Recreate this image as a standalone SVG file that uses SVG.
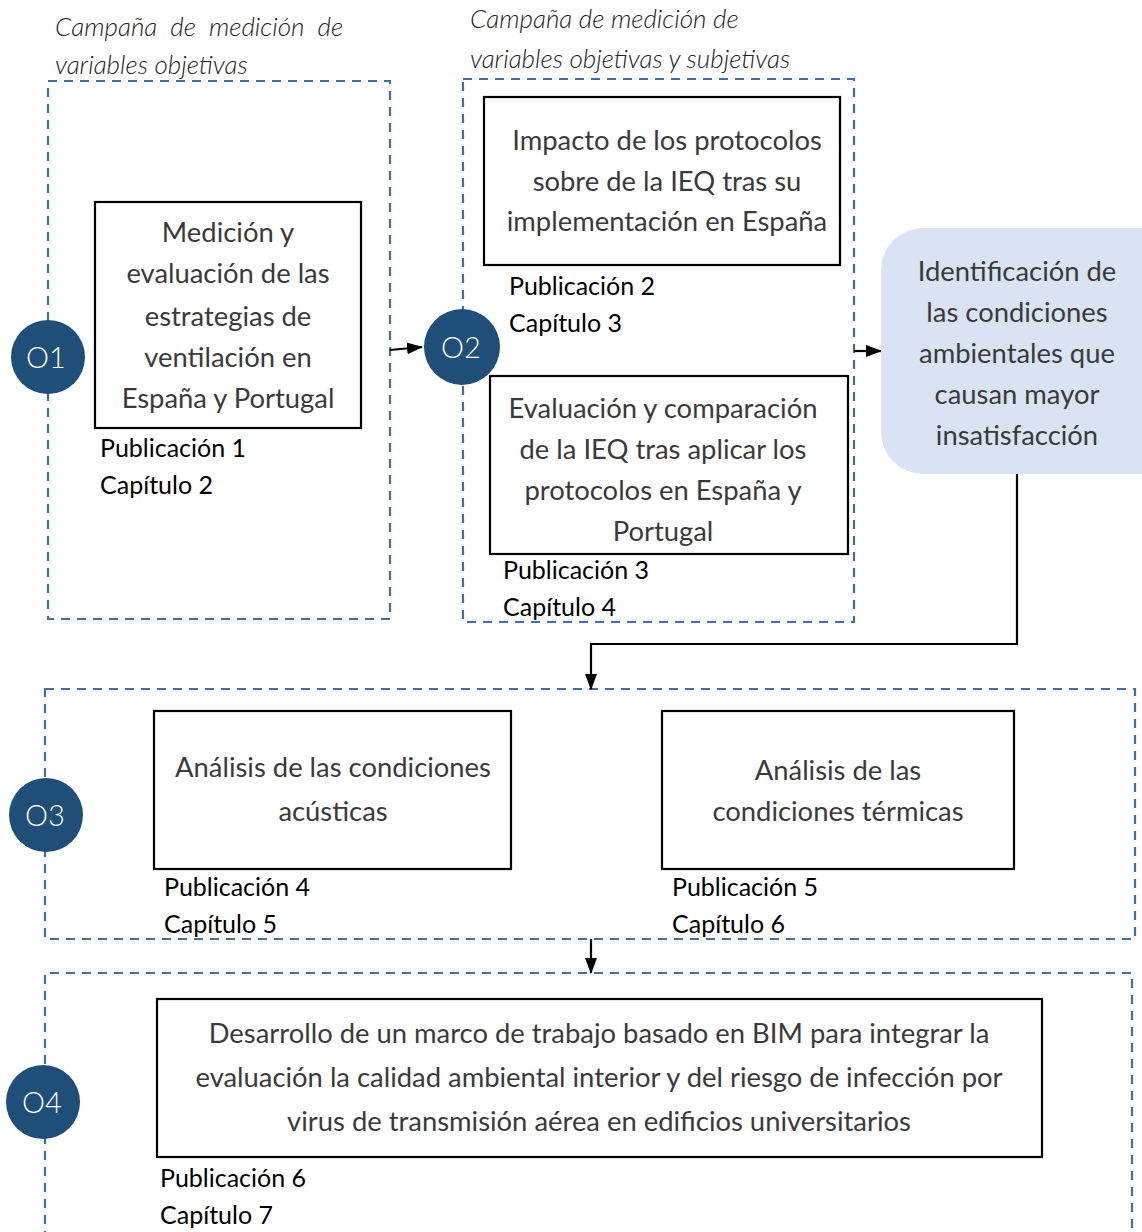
<svg xmlns="http://www.w3.org/2000/svg" width="1142" height="1232" viewBox="0 0 1142 1232">
<defs>
<style>
.dash{fill:none;stroke:#3f6f9f;stroke-width:2.2;stroke-dasharray:9 7}
.box{fill:#fff;stroke:#000;stroke-width:2.2}
.t{font-family:Lato,"Open Sans",sans-serif;font-size:27.4px;font-weight:400;fill:#3a3a3a;text-anchor:middle}
.pub{font-family:Lato,"Open Sans",sans-serif;font-size:25px;fill:#000;font-weight:400}
.cap{font-family:Lato,"Open Sans",sans-serif;font-size:26px;font-weight:300;fill:#222;font-style:italic}
.circ{fill:#1f4e79}
.ct{font-family:Lato,"Open Sans",sans-serif;font-size:29px;font-weight:300;fill:#fff;text-anchor:middle}
.conn{fill:none;stroke:#000;stroke-width:2.2}
</style>
<marker id="ahd" markerWidth="16" markerHeight="16" refX="15" refY="8" orient="auto" markerUnits="userSpaceOnUse" viewBox="0 0 16 16">
<path d="M0,2 L16,8 L0,14 z" fill="#000"/>
</marker>
</defs>
<rect width="1142" height="1232" fill="#fff"/>

<g id="captions">
<text class="cap" x="55" y="36" word-spacing="6.5">Campaña de medición de</text>
<text class="cap" x="55" y="74">variables objetivas</text>
<text class="cap" x="470" y="28">Campaña de medición de</text>
<text class="cap" x="470" y="68">variables objetivas y subjetivas</text>
</g>

<g id="group-o1">
<rect class="dash" x="48" y="81" width="342" height="538"/>
</g>
<g id="group-o2">
<rect class="dash" x="463" y="79" width="391" height="543"/>
</g>
<g id="group-o3">
<rect class="dash" x="45" y="689" width="1090" height="250"/>
</g>
<g id="group-o4">
<path class="dash" d="M45,1240 L45,973 L1132,973 L1132,1240"/>
</g>

<g id="connectors">
<line class="conn" x1="390" y1="350" x2="422" y2="347" marker-end="url(#ahd)"/>
<line class="conn" x1="854" y1="351" x2="881" y2="351" marker-end="url(#ahd)"/>
<path class="conn" d="M1017,474 L1017,644 L591,644 L591,689" marker-end="url(#ahd)"/>
<line class="conn" x1="591" y1="939" x2="591" y2="973" marker-end="url(#ahd)"/>
</g>

<g id="node-box1">
<rect class="box" x="95" y="202" width="266" height="226"/>
<text class="t" x="228" y="242">Medición y</text>
<text class="t" x="228" y="283">evaluación de las</text>
<text class="t" x="228" y="326">estrategias de</text>
<text class="t" x="228" y="367">ventilación en</text>
<text class="t" x="228" y="408">España y Portugal</text>
<text class="pub" x="100" y="457">Publicación 1</text>
<text class="pub" x="100" y="494">Capítulo 2</text>
</g>

<g id="node-box2">
<rect class="box" x="484" y="97" width="356" height="168"/>
<text class="t" x="667" y="150">Impacto de los protocolos</text>
<text class="t" x="667" y="191">sobre de la IEQ tras su</text>
<text class="t" x="667" y="231">implementación en España</text>
<text class="pub" x="509" y="295">Publicación 2</text>
<text class="pub" x="509" y="332">Capítulo 3</text>
</g>

<g id="node-box3">
<rect class="box" x="490" y="376" width="358" height="178"/>
<text class="t" x="663" y="418">Evaluación y comparación</text>
<text class="t" x="663" y="459">de la IEQ tras aplicar los</text>
<text class="t" x="663" y="500">protocolos en España y</text>
<text class="t" x="663" y="541">Portugal</text>
<text class="pub" x="503" y="579">Publicación 3</text>
<text class="pub" x="503" y="616">Capítulo 4</text>
</g>

<g id="node-identificacion">
<rect x="881" y="228" width="300" height="246" rx="42" fill="#dae3f3"/>
<text class="t" x="1017" y="281">Identificación de</text>
<text class="t" x="1017" y="322">las condiciones</text>
<text class="t" x="1017" y="363">ambientales que</text>
<text class="t" x="1017" y="404">causan mayor</text>
<text class="t" x="1017" y="445">insatisfacción</text>
</g>

<g id="node-box4">
<rect class="box" x="154" y="711" width="357" height="158"/>
<text class="t" x="333" y="777">Análisis de las condiciones</text>
<text class="t" x="333" y="821">acústicas</text>
<text class="pub" x="164" y="896">Publicación 4</text>
<text class="pub" x="164" y="933">Capítulo 5</text>
</g>

<g id="node-box5">
<rect class="box" x="662" y="711" width="352" height="158"/>
<text class="t" x="838" y="780">Análisis de las</text>
<text class="t" x="838" y="821">condiciones térmicas</text>
<text class="pub" x="672" y="896">Publicación 5</text>
<text class="pub" x="672" y="933">Capítulo 6</text>
</g>

<g id="node-box6">
<rect class="box" x="157" y="999" width="885" height="158"/>
<text class="t" x="599" y="1043">Desarrollo de un marco de trabajo basado en BIM para integrar la</text>
<text class="t" x="599" y="1087">evaluación la calidad ambiental interior y del riesgo de infección por</text>
<text class="t" x="599" y="1131">virus de transmisión aérea en edificios universitarios</text>
<text class="pub" x="160" y="1187">Publicación 6</text>
<text class="pub" x="160" y="1224">Capítulo 7</text>
</g>

<g id="node-o1">
<circle class="circ" cx="48" cy="357" r="37"/>
<text class="ct" x="46" y="368">O1</text>
</g>
<g id="node-o2">
<circle class="circ" cx="462" cy="347" r="38"/>
<text class="ct" x="461" y="358">O2</text>
</g>
<g id="node-o3">
<circle class="circ" cx="46" cy="815" r="37"/>
<text class="ct" x="45" y="826">O3</text>
</g>
<g id="node-o4">
<circle class="circ" cx="43" cy="1102" r="37"/>
<text class="ct" x="42" y="1113">O4</text>
</g>
</svg>
